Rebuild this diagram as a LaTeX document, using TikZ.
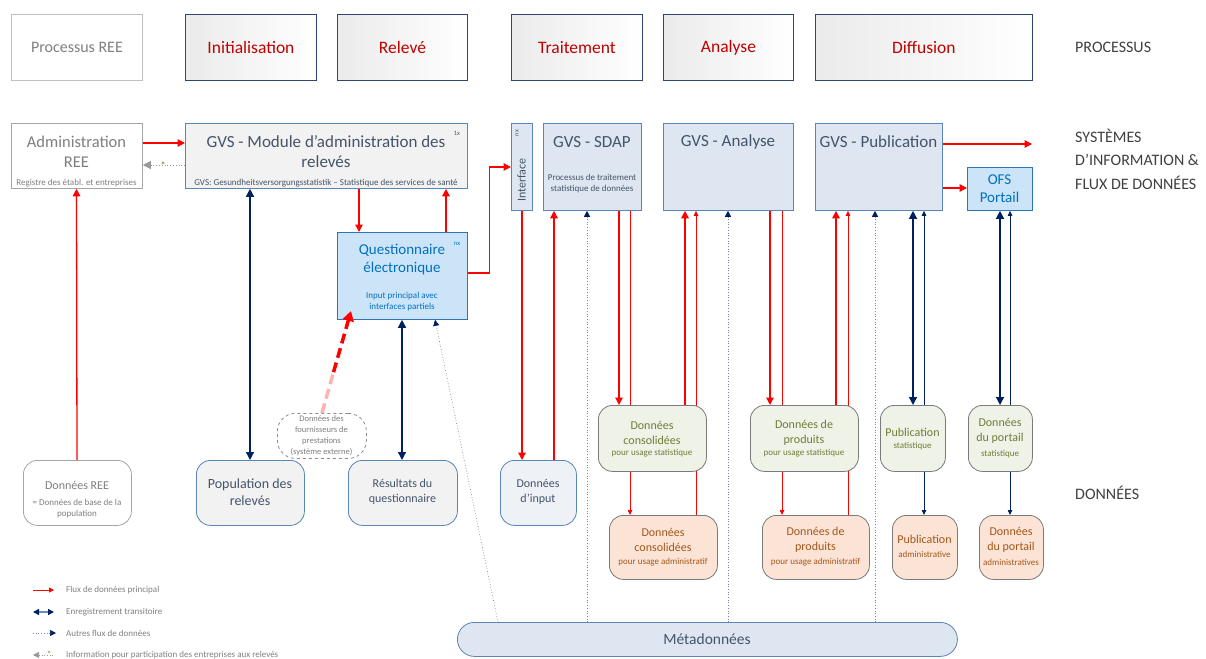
\documentclass[tikz,border=0pt]{standalone}
\usepackage{fontspec}
\setmainfont{Carlito}
\usetikzlibrary{arrows.meta,backgrounds,calc}
\definecolor{myred}{HTML}{FF0000}
\definecolor{procred}{HTML}{C00000}
\definecolor{navy}{HTML}{002060}
\definecolor{slate}{HTML}{44546A}
\definecolor{bord}{HTML}{5B85B5}
\definecolor{sysfill}{HTML}{DEE7F1}
\definecolor{qfill}{HTML}{CCE4F8}
\definecolor{qbord}{HTML}{2E75B6}
\definecolor{qtext}{HTML}{0070C0}
\definecolor{greyfill}{HTML}{F2F2F2}
\definecolor{greytext}{HTML}{7F7F7F}
\definecolor{greenfill}{HTML}{EFF2E6}
\definecolor{greentext}{HTML}{6E7D3A}
\definecolor{orfill}{HTML}{FBE4D5}
\definecolor{ortext}{HTML}{A5561A}
\definecolor{dbord}{HTML}{7A7A7A}
\definecolor{procbord}{HTML}{2F4374}
\definecolor{inputfill}{HTML}{EEF2F7}
\definecolor{legline}{HTML}{6A8AC0}
\newcommand{\fsz}[2]{\fontsize{#1}{#2}\selectfont}
\begin{document}
\begin{tikzpicture}[x=1pt,y=-1pt,
  proc/.style={rectangle, draw=procbord, line width=0.9pt, left color=black!8, right color=white, anchor=north west, inner sep=0pt, font=\fsz{17.5}{20}, text=procred},
  sys/.style={rectangle, draw=bord, line width=0.8pt, fill=sysfill, anchor=north west, inner sep=0pt},
  dbox/.style={rectangle, rounded corners=14pt, line width=0.8pt, anchor=north west, inner sep=0pt},
  greenbox/.style={dbox, draw=dbord, fill=greenfill},
  orbox/.style={dbox, draw=dbord, fill=orfill},
  txt/.style={inner sep=0pt, align=center},
  ttl/.style={txt, text=slate, font=\fsz{17}{20}},
  small/.style={txt, font=\fsz{9}{11}},
  gtxt/.style={txt, text=greentext, font=\fsz{12}{15}},
  otxt/.style={txt, text=ortext, font=\fsz{12}{15}},
  lbl/.style={inner sep=0pt, anchor=west, text=black!75, font=\fsz{16}{23.5}, align=left},
  leg/.style={inner sep=0pt, anchor=west, text=greytext, font=\fsz{9}{10}},
  rarrow/.style={draw=myred, line width=1.3pt, -{Triangle[width=7.5pt,length=7.5pt]}},
  rthin/.style={draw=myred, line width=0.8pt, -{Triangle[width=4.5pt,length=5pt]}},
  rline/.style={draw=myred, line width=0.8pt},
  ndouble/.style={draw=navy, line width=1.3pt, {Triangle[width=8pt,length=8pt]}-{Triangle[width=8pt,length=8pt]}},
  nthin/.style={draw=navy, line width=0.8pt, -{Triangle[width=4.5pt,length=5pt]}},
  dotarr/.style={draw=navy!55, line width=0.7pt, dotted, -{Triangle[width=6pt,length=6pt,color=navy]}},
  dotline/.style={draw=navy!55, line width=0.7pt, dotted}
]
\useasboundingbox (0,0) rectangle (1206,658);

% ---------- process row ----------
\node[proc, draw=black!25, left color=white, right color=white, text=greytext, font=\fsz{16}{19}, minimum width=131pt, minimum height=66pt] (prree) at (11,14) {Processus REE};
\node[proc, minimum width=131pt, minimum height=66pt] (pinit) at (185,14) {Initialisation};
\node[proc, minimum width=130pt, minimum height=66pt] (prel) at (337,14) {Relevé};
\node[proc, minimum width=131pt, minimum height=66pt] (ptrait) at (511,14) {Traitement};
\node[proc, minimum width=130pt, minimum height=66pt] (pana) at (663,14) {Analyse};
\node[proc, minimum width=217pt, minimum height=66pt] (pdiff) at (815,14) {Diffusion};
\node[lbl] (lproc) at (1075,47) {PROCESSUS};

% ---------- systems row ----------
\node[sys, draw=black!35, fill=white, minimum width=131pt, minimum height=65pt] (adminree) at (11,123) {};
\node[txt, text=greytext, font=\fsz{16.5}{20}] (adt) at (76.5,152) {Administration\\REE};
\node[small, text=greytext] (ads) at (76.5,183) {Registre des établ. et entreprises};

\node[sys, fill=greyfill, minimum width=282pt, minimum height=65pt] (module) at (185,123) {};
\node[ttl] (modt) at (326,152) {GVS - Module d’administration des\\relevés};
\node[small, text=slate] (mods) at (326,183) {GVS: Gesundheitsversorgungsstatistik – Statistique des services de santé};
\node[txt, text=slate, font=\fsz{6.5}{7}] (modx) at (457,133) {1x};

\node[sys, draw=qbord, fill=qfill, minimum width=130pt, minimum height=87pt] (q) at (337,232) {};
\node[txt, text=qtext, font=\fsz{15}{18}] (qt) at (402,260) {Questionnaire\\électronique};
\node[small, text=qtext] (qs) at (402,302) {Input principal avec\\interfaces partiels};
\node[txt, text=qtext, font=\fsz{6.5}{7}] (qx) at (457,244) {nx};

\node[sys, minimum width=21pt, minimum height=87pt] (ifc) at (511,123) {};
\node[txt, rotate=90, text=slate, font=\fsz{12}{13}] (ifct) at (521.5,180) {Interface};
\node[txt, rotate=90, text=slate, font=\fsz{6.5}{7}] (ifcx) at (517,133) {nx};

\node[sys, minimum width=98pt, minimum height=87pt] (sdap) at (543,123) {};
\node[ttl] (sdapt) at (592,142) {GVS - SDAP};
\node[small, text=slate] (sdaps) at (592,184) {Processus de traitement\\statistique de données};

\node[sys, minimum width=130pt, minimum height=87pt] (analyse) at (663,123) {};
\node[ttl] (anat) at (728,142) {GVS - Analyse};

\node[sys, minimum width=127pt, minimum height=87pt] (pub) at (815,123) {};
\node[ttl] (pubt) at (878.5,142) {GVS - Publication};

\node[sys, draw=qbord, fill=qfill, minimum width=65pt, minimum height=43pt] (ofs) at (967,167) {};
\node[txt, text=qtext, font=\fsz{15}{18}] (ofst) at (999.5,189) {OFS\\Portail};

\node[lbl] (lsys) at (1075,159) {SYSTÈMES\\D’INFORMATION \&\\FLUX DE DONNÉES};

% ---------- data row ----------
\node[dbox, draw=black!35, fill=white, minimum width=108pt, minimum height=65pt] (donree) at (23,460) {};
\node[txt, text=greytext, font=\fsz{12}{14}] (donreet) at (77,485) {Données REE};
\node[small, text=greytext] (donrees) at (77,509) {= Données de base de la\\population};

\node[dbox, draw=bord, fill=greyfill, minimum width=108pt, minimum height=65pt] (pop) at (196,460) {};
\node[txt, text=slate, font=\fsz{14}{17}] (popt) at (250,492) {Population des\\relevés};

\node[dbox, draw=bord, fill=greyfill, minimum width=109pt, minimum height=65pt] (res) at (348,460) {};
\node[txt, text=slate, font=\fsz{12}{15}] (rest) at (402.5,492) {Résultats du\\questionnaire};

\node[dbox, rounded corners=18pt, draw=black!45, dashed, fill=white, minimum width=89pt, minimum height=45pt] (fourn) at (277,413) {};
\node[small, text=greytext, font=\fsz{8.5}{11}] (fournt) at (321.5,436) {Données des\\fournisseurs de\\prestations\\(système externe)};

\node[dbox, draw=bord, fill=inputfill, minimum width=76pt, minimum height=65pt] (input) at (500,460) {};
\node[txt, text=slate, font=\fsz{12}{15}] (inputt) at (538,492) {Données\\d’input};

\node[greenbox, minimum width=108pt, minimum height=66pt] (cons) at (598,405) {};
\node[gtxt] (const) at (652,433) {Données\\consolidées};
\node[small, text=greentext] (conss) at (652,453) {pour usage statistique};

\node[greenbox, minimum width=108pt, minimum height=66pt] (prod) at (750,405) {};
\node[gtxt] (prodt) at (804,433) {Données de\\produits};
\node[small, text=greentext] (prods) at (804,453) {pour usage statistique};

\node[greenbox, minimum width=65pt, minimum height=66pt] (pubstat) at (880,405) {};
\node[gtxt] (pubstatt) at (912.5,432) {Publication};
\node[small, text=greentext] (pubstats) at (912.5,446) {statistique};

\node[greenbox, minimum width=64pt, minimum height=66pt] (portstat) at (968,405) {};
\node[gtxt] (portstatt) at (1000,430.5) {Données\\du portail};
\node[small, text=greentext] (portstats) at (1000,454) {statistique};

\node[orbox, minimum width=108pt, minimum height=64pt] (consadm) at (609,515) {};
\node[otxt] (consadmt) at (663,540) {Données\\consolidées};
\node[small, text=ortext] (consadms) at (663,562) {pour usage administratif};

\node[orbox, minimum width=107pt, minimum height=64pt] (prodadm) at (762,515) {};
\node[otxt] (prodadmt) at (815.5,540) {Données de\\produits};
\node[small, text=ortext] (prodadms) at (815.5,562) {pour usage administratif};

\node[orbox, minimum width=65pt, minimum height=64pt] (pubadm) at (892,515) {};
\node[otxt] (pubadmt) at (924.5,539) {Publication};
\node[small, text=ortext] (pubadms) at (924.5,554) {administrative};

\node[orbox, minimum width=64pt, minimum height=64pt] (portadm) at (979,515) {};
\node[otxt] (portadmt) at (1011,540) {Données\\du portail};
\node[small, text=ortext] (portadms) at (1011,562) {administratives};

\node[lbl] (ldon) at (1075,493) {DONNÉES};

\node[dbox, rounded corners=17pt, draw=bord, fill=sysfill, minimum width=500pt, minimum height=34pt] (meta) at (457,622) {};
\node[txt, text=slate, font=\fsz{15.5}{17}] (metat) at (707,639) {Métadonnées};

% ---------- connectors (behind boxes) ----------
\begin{pgfonlayer}{background}
\draw[rarrow] ([yshift=-20pt]adminree.north east) -- ([yshift=-20pt]module.north west);
\draw[draw=black!40, line width=0.8pt, dotted, -{Triangle[width=8pt,length=8pt,color=black!40]}] ([yshift=-42pt]module.north west) -- ([yshift=-42pt]adminree.north east);
\draw[rarrow] ([xshift=54pt]donree.north west) -- ([xshift=65.5pt]adminree.south west);
\draw[ndouble] ([xshift=65pt]module.south west) -- ([xshift=54pt]pop.north west);
\draw[rarrow] ([xshift=174pt]module.south west) -- ([xshift=22pt]q.north west);
\draw[rarrow] ([xshift=109pt]q.north west) -- ([xshift=261pt]module.south west);
\draw[ndouble] ([xshift=65pt]q.south west) -- ([xshift=54pt]res.north west);
\draw[rarrow] ([yshift=-41pt]q.north east) -- ++(22,0) |- ([yshift=-44pt]ifc.north west);
\draw[rarrow] ([xshift=11pt]ifc.south west) -- ([xshift=22pt]input.north west);
\draw[rarrow] ([xshift=54pt]input.north west) -- ([xshift=11pt]sdap.south west);
\draw[dotarr] ([xshift=130pt]meta.north west) -- ([xshift=44pt]sdap.south west);
\draw[rarrow] ([xshift=76pt]sdap.south west) -- ([xshift=21pt]cons.north west);
\draw[rline] ([xshift=87pt]sdap.south west) -- ([xshift=32pt]cons.north west);
\draw[rthin] ([xshift=32pt]cons.south west) -- ([xshift=21pt]consadm.north west);
\draw[rarrow] ([xshift=87pt]cons.north west) -- ([xshift=22pt]analyse.south west);
\draw[rthin] ([xshift=87pt]consadm.north west) -- ([xshift=33pt]analyse.south west);
\draw[dotarr] ([xshift=271pt]meta.north west) -- ([xshift=65pt]analyse.south west);
\draw[rarrow] ([xshift=107pt]analyse.south west) -- ([xshift=20pt]prod.north west);
\draw[rline] ([xshift=119pt]analyse.south west) -- ([xshift=32pt]prod.north west);
\draw[rthin] ([xshift=32pt]prod.south west) -- ([xshift=20pt]prodadm.north west);
\draw[rarrow] ([xshift=86pt]prod.north west) -- ([xshift=21pt]pub.south west);
\draw[rthin] ([xshift=86pt]prodadm.north west) -- ([xshift=33pt]pub.south west);
\draw[dotarr] ([xshift=418pt]meta.north west) -- ([xshift=60pt]pub.south west);
\draw[ndouble] ([xshift=98pt]pub.south west) -- ([xshift=33pt]pubstat.north west);
\draw[nthin] ([xshift=44pt]pubstat.north west) -- ([xshift=109pt]pub.south west);
\draw[nthin] ([xshift=44pt]pubstat.south west) -- ([xshift=32pt]pubadm.north west);
\draw[ndouble] ([xshift=33pt]ofs.south west) -- ([xshift=32pt]portstat.north west);
\draw[nthin] ([xshift=42pt]portstat.north west) -- ([xshift=43pt]ofs.south west);
\draw[nthin] ([xshift=42pt]portstat.south west) -- ([xshift=31pt]portadm.north west);
\coordinate (outend) at (1032,144);
\draw[rarrow] ([yshift=-21pt]pub.north east) -- (outend);
\draw[rarrow] ([yshift=-65pt]pub.north east) -- ([yshift=-21pt]ofs.north west);
\draw[dotarr] ([xshift=41pt]meta.north west) -- ([xshift=98pt]q.south west);
\end{pgfonlayer}

\node[txt, text=greentext, font=\fsz{11}{11}] (ast) at (163,166) {*};

% dashed red arrow from external system
\coordinate (dtip) at (351,311);
\draw[myred!30, line width=3.5pt, dash pattern=on 10pt off 5pt] (fourn.north) -- ($(fourn.north)!0.4!(dtip)$);
\draw[myred, line width=3.5pt, dash pattern=on 10pt off 5pt, -{Triangle[width=11pt,length=10pt]}] ($(fourn.north)!0.4!(dtip)$) -- (dtip);

% ---------- legend ----------
\coordinate (la1) at (33,590); \coordinate (lb1) at (54,590);
\draw[draw=myred, line width=0.9pt, -{Triangle[width=5pt,length=5pt]}] (la1) -- (lb1);
\node[leg] (lt1) at (66,590) {Flux de données principal};
\coordinate (la2) at (33,612); \coordinate (lb2) at (54,612);
\draw[draw=legline, line width=1.8pt, {Triangle[width=6pt,length=6pt,color=navy]}-{Triangle[width=6pt,length=6pt,color=navy]}] (la2) -- (lb2);
\node[leg] (lt2) at (66,612) {Enregistrement transitoire};
\coordinate (la3) at (33,633); \coordinate (lb3) at (56,633);
\draw[draw=navy!55, line width=0.7pt, dotted, -{Triangle[width=6pt,length=6pt,color=navy]}] (la3) -- (lb3);
\node[leg] (lt3) at (66,633) {Autres flux de données};
\coordinate (la4) at (33,655); \coordinate (lb4) at (54,655);
\draw[draw=black!40, line width=0.7pt, dotted, {Triangle[width=6pt,length=6pt,color=black!40]}-] (la4) -- (lb4);
\node[txt, text=greentext, font=\fsz{9}{9}] (last) at (49,654) {*};
\node[leg] (lt4) at (66,655) {Information pour participation des entreprises aux relevés};
\end{tikzpicture}
\end{document}
